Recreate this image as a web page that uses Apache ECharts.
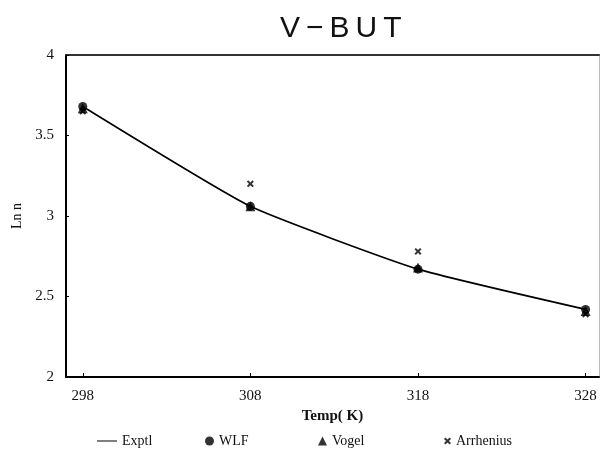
<!DOCTYPE html>
<html><head><meta charset="utf-8">
<script src="https://cdn.jsdelivr.net/npm/echarts@6/dist/echarts.min.js"></script>
<style>html,body{margin:0;padding:0;background:#fff}#c{width:600px;height:449px}</style>
</head><body><div id="c"></div>
<script>
var temps = [298, 308, 318, 328];
var exptl = [3.68, 3.06, 2.67, 2.42];
var wlf = [3.68, 3.06, 2.67, 2.42];
var vogel = [3.67, 3.06, 2.68, 2.41];
var arrhenius = [3.65, 3.20, 2.78, 2.39];
var xTicks = [298, 308, 318, 328];
var yTicks = [2, 2.5, 3, 3.5, 4];

function pairs(v){ return temps.map(function(t,i){ return [t, v[i]]; }); }
var crossPath = 'path://M0,2 L2,0 L5,3 L8,0 L10,2 L7,5 L10,8 L8,10 L5,7 L2,10 L0,8 L3,5 Z';
var serif = '"Liberation Serif","DejaVu Serif",serif';
var chart = echarts.init(document.getElementById('c'));
var legendBase = {top: 429, itemGap: 7, textStyle:{fontFamily: serif, fontSize: 14, color:'#111'}};
chart.setOption({
  animation: false,
  title: {text: 'V\u2009\u2212\u2009B\u2009U\u2009T', left: 275, top: 9,
    textStyle: {fontFamily: '"Liberation Sans",Arial,sans-serif', fontWeight: 'normal', fontSize: 30, color: '#111'}},
  legend: [
    Object.assign({}, legendBase, {left: 92, data: [{name:'Exptl', icon:'path://M0,9 L20,9 L20,10 L0,10 Z'}], itemWidth: 20, itemHeight: 10}),
    Object.assign({}, legendBase, {left: 200, data: [{name:'WLF', icon:'circle'}], itemWidth: 9, itemHeight: 9}),
    Object.assign({}, legendBase, {left: 313, data: [{name:'Vogel', icon:'triangle'}], itemWidth: 9, itemHeight: 9}),
    Object.assign({}, legendBase, {left: 439, data: [{name:'Arrhenius', icon: crossPath}], itemWidth: 7, itemHeight: 7})
  ],
  grid: {left: 66, top: 55, right: 1, bottom: 72, containLabel: false},
  xAxis: [{
    type: 'value', min: 297, max: 328.8,
    name: 'Temp( K)', nameLocation: 'middle', nameGap: 30,
    nameTextStyle: {fontFamily: serif, fontSize: 15, fontWeight: 'bold', color: '#111'},
    axisLine: {lineStyle: {color: '#000', width: 2}},
    axisTick: {inside: true, length: 4, customValues: xTicks, lineStyle:{color:'#000'}},
    axisLabel: {customValues: xTicks, margin: 12, fontFamily: serif, fontSize: 15, color: '#111'},
    splitLine: {show: false}
  },{
    type: 'value', min: 297, max: 328.8, position: 'top',
    axisLine: {show: true, lineStyle: {color: '#333', width: 2}},
    axisTick: {show: false}, axisLabel: {show: false}, splitLine: {show: false}
  }],
  yAxis: [{
    type: 'value', min: 2, max: 4, interval: 0.5,
    name: 'Ln n', nameLocation: 'middle', nameGap: 42, nameRotate: 90,
    nameTextStyle: {fontFamily: serif, fontSize: 14, color: '#111'},
    axisLine: {show: true, lineStyle: {color: '#000', width: 2}},
    axisTick: {inside: true, length: 3, lineStyle:{color:'#000'}},
    axisLabel: {margin: 12, fontFamily: serif, fontSize: 15, color: '#111',
      formatter: function(v){ return String(v); }},
    splitLine: {show: false}
  },{
    type: 'value', min: 2, max: 4, position: 'right',
    axisLine: {show: true, lineStyle: {color: '#bbb', width: 1}},
    axisTick: {show: false}, axisLabel: {show: false}, splitLine: {show: false}
  }],
  series: [
    {name: 'Exptl', type: 'line', data: pairs(exptl), smooth: 0.15, showSymbol: false,
      lineStyle: {color: '#000', width: 1.6}, itemStyle:{color:'#000'}},
    {name: 'WLF', type: 'scatter', data: pairs(wlf), symbol: 'circle', symbolSize: 9, itemStyle: {color: '#000'}},
    {name: 'Vogel', type: 'scatter', data: pairs(vogel), symbol: 'triangle', symbolSize: 10, itemStyle: {color: '#000'}},
    {name: 'Arrhenius', type: 'scatter', data: pairs(arrhenius), symbol: crossPath, symbolSize: 7, itemStyle: {color: '#000'}}
  ]
});
</script></body></html>
